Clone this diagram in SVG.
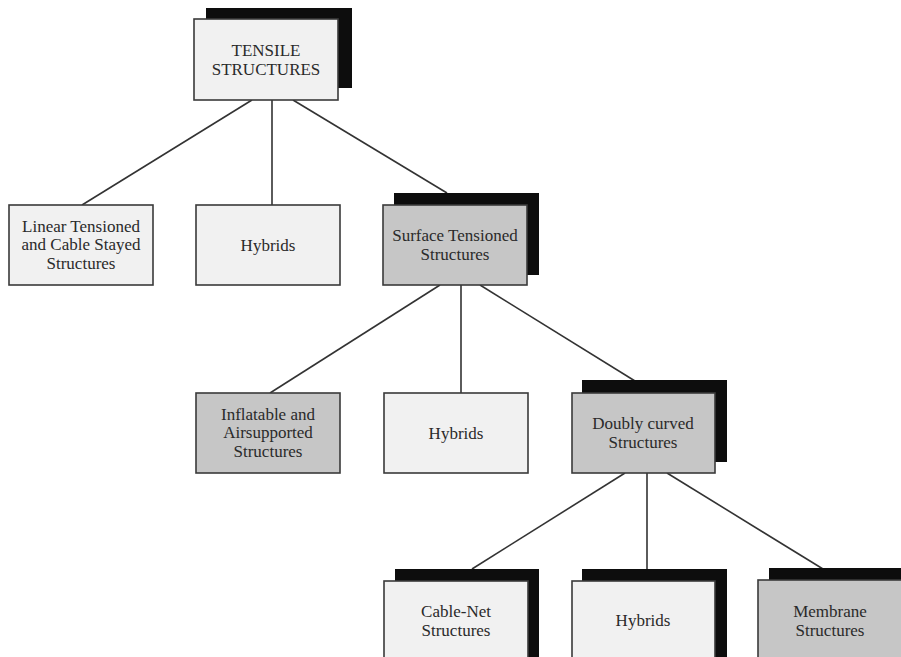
<svg xmlns="http://www.w3.org/2000/svg" width="901" height="657" viewBox="0 0 901 657">
<style>
.bg{fill:#ffffff}
.sh{fill:#0d0d0d}
.box{stroke:#3a3a3a;stroke-width:1.6}
.lt{fill:#f1f1f1}
.dk{fill:#c6c6c6}
.t{font-family:"Liberation Serif","Times New Roman",serif;font-size:17px;fill:#2a2a2a;text-anchor:middle}
.c{stroke:#333;stroke-width:1.6;fill:none}
</style>
<rect class="bg" x="0" y="0" width="901" height="657"/>
<g id="connectors">
<line class="c" x1="252" y1="100" x2="82" y2="205"/>
<line class="c" x1="272" y1="100" x2="272" y2="205"/>
<line class="c" x1="293" y1="100" x2="447" y2="193"/>
<line class="c" x1="440" y1="285" x2="270" y2="393"/>
<line class="c" x1="461" y1="285" x2="461" y2="393"/>
<line class="c" x1="480" y1="285" x2="635" y2="381"/>
<line class="c" x1="625" y1="473" x2="472" y2="569"/>
<line class="c" x1="647" y1="473" x2="647" y2="569"/>
<line class="c" x1="667" y1="473" x2="823" y2="569"/>
</g>
<g id="tensile">
<rect class="sh" x="206" y="8" width="146" height="80"/>
<rect class="box lt" x="194" y="19" width="144" height="81"/>
<text class="t" x="266" y="56">TENSILE</text>
<text class="t" x="266" y="75">STRUCTURES</text>
</g>
<g id="linear">
<rect class="box lt" x="9" y="205" width="144" height="80"/>
<text class="t" x="81" y="232">Linear Tensioned</text>
<text class="t" x="81" y="250">and Cable Stayed</text>
<text class="t" x="81" y="269">Structures</text>
</g>
<g id="hybrids1">
<rect class="box lt" x="196" y="205" width="144" height="80"/>
<text class="t" x="268" y="251">Hybrids</text>
</g>
<g id="surface">
<rect class="sh" x="394" y="193" width="145" height="82"/>
<rect class="box dk" x="383" y="205" width="144" height="80"/>
<text class="t" x="455" y="241">Surface Tensioned</text>
<text class="t" x="455" y="260">Structures</text>
</g>
<g id="inflatable">
<rect class="box dk" x="196" y="393" width="144" height="80"/>
<text class="t" x="268" y="420">Inflatable and</text>
<text class="t" x="268" y="438">Airsupported</text>
<text class="t" x="268" y="457">Structures</text>
</g>
<g id="hybrids2">
<rect class="box lt" x="384" y="393" width="144" height="80"/>
<text class="t" x="456" y="439">Hybrids</text>
</g>
<g id="doubly">
<rect class="sh" x="582" y="380" width="145" height="82"/>
<rect class="box dk" x="572" y="393" width="143" height="80"/>
<text class="t" x="643" y="429">Doubly curved</text>
<text class="t" x="643" y="448">Structures</text>
</g>
<g id="cablenet">
<rect class="sh" x="395" y="569" width="144" height="90"/>
<rect class="box lt" x="384" y="581" width="144" height="80"/>
<text class="t" x="456" y="617">Cable-Net</text>
<text class="t" x="456" y="636">Structures</text>
</g>
<g id="hybrids3">
<rect class="sh" x="582" y="569" width="145" height="90"/>
<rect class="box lt" x="572" y="581" width="143" height="80"/>
<text class="t" x="643" y="626">Hybrids</text>
</g>
<g id="membrane">
<rect class="sh" x="769" y="568" width="144" height="90"/>
<rect class="box dk" x="758" y="580" width="144" height="81"/>
<text class="t" x="830" y="617">Membrane</text>
<text class="t" x="830" y="636">Structures</text>
</g>
</svg>
